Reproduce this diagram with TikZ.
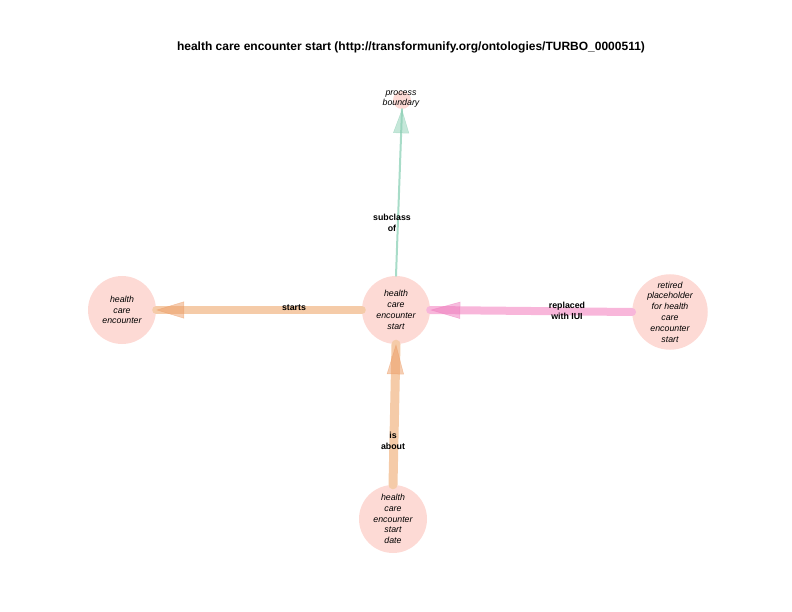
\documentclass[tikz,border=0pt]{standalone}
\usepackage{fontspec}
\setmainfont{Liberation Sans}
\usetikzlibrary{arrows.meta,decorations.markings}

\definecolor{nodepink}{HTML}{FDDAD5}
\definecolor{startsorange}{HTML}{F5CBA8}
\definecolor{startshead}{HTML}{EC9C66}
\definecolor{iuipink}{HTML}{F8B6DA}
\definecolor{iuihead}{HTML}{EE7CBE}
\definecolor{subteal}{HTML}{A8DCC8}
\definecolor{subhead}{HTML}{8CCFB4}

\begin{document}
\begin{tikzpicture}[x=1pt, y=-1pt,
    term/.style={circle, fill=nodepink, minimum size=68pt, inner sep=0pt,
      align=center, font=\fontsize{8.8}{10.8}\selectfont\itshape},
    rel/.style={line cap=round, postaction={decorate},
      decoration={markings, mark=at position 1 with
        {\pgfsetfillopacity{0.5}\pgfsetstrokeopacity{0.5}\arrow{#1}}}},
    rellabel/.style={align=center, font=\fontsize{8.8}{11.5}\selectfont\bfseries},
    ]
    \useasboundingbox (0,0) rectangle (792,612);
    \node[font=\fontsize{12}{14}\selectfont\bfseries] (title) at (411,47)
      {health care encounter start (http://transformunify.org/ontologies/TURBO\_0000511)};

    % nodes
    \node[circle, fill=nodepink, minimum size=18pt, inner sep=0pt] (pb) at (402,100) {};
    \node[align=center, font=\fontsize{8.8}{10.8}\selectfont\itshape] (pbtext) at (401,99)
      {process\\boundary};
    \node[term] (hces) at (396,310) {health\\care\\encounter\\start};
    \node[term] (hce) at (122,310) {health\\care\\encounter};
    \node[term, minimum size=70pt] (ret) at (670,312)
      {retired\\placeholder\\for health\\care\\encounter\\start};
    \node[term] (date) at (393,519) {health\\care\\encounter\\start\\date};

    % edges
    \draw[subteal, line width=2pt,
      rel={Triangle[length=24pt, width=16pt, fill=subhead, color=subhead, line width=0.5pt]}]
      (hces.north) -- (pb.south);
    \draw[startsorange, line width=8pt,
      rel={Triangle[length=28pt, width=17pt, fill=startshead, color=startshead, line width=0.5pt]}]
      (hces.west) -- (hce.east);
    \draw[iuipink, line width=8pt,
      rel={Triangle[length=30pt, width=17pt, fill=iuihead, color=iuihead, line width=0.5pt]}]
      (ret.west) -- (hces.east);
    \draw[startsorange, line width=9pt,
      rel={Triangle[length=30pt, width=17pt, fill=startshead, color=startshead, line width=0.5pt]}]
      (date.north) -- (hces.south);

    % edge labels
    \node[rellabel] (sublab) at (392,223) {subclass\\of};
    \node[rellabel] (startlab) at (294,308) {starts};
    \node[rellabel] (iuilab) at (567,311) {replaced\\with IUI};
    \node[rellabel] (aboutlab) at (393,441) {is\\about};
  \end{tikzpicture}
\end{document}
